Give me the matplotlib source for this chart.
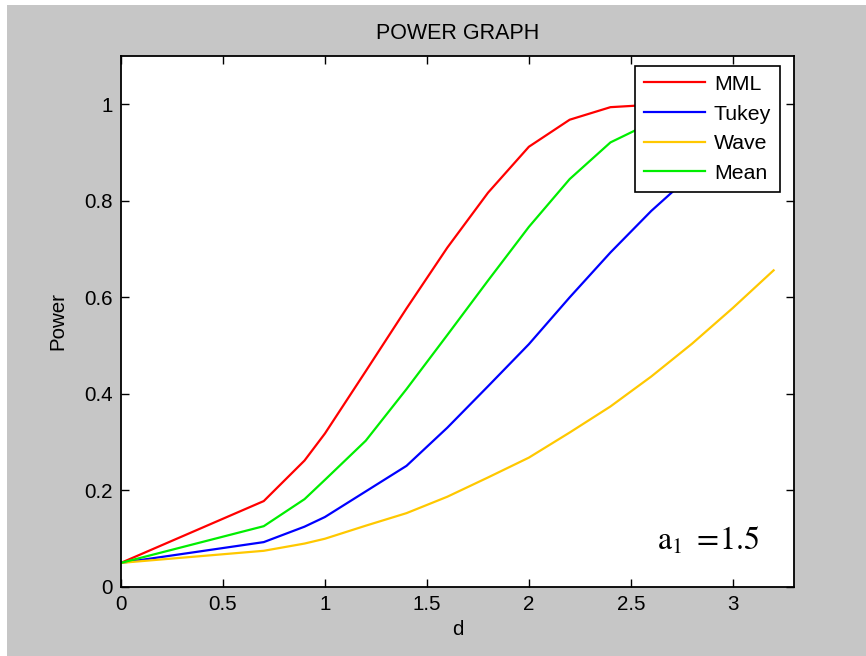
import matplotlib
matplotlib.use("Agg")
import matplotlib.pyplot as plt
from matplotlib.patches import Rectangle

d = [0, 0.7, 0.9, 1.0, 1.2, 1.4, 1.6, 1.8, 2.0, 2.2, 2.4, 2.6, 2.8, 3.0, 3.2]
mml = [0.05, 0.178, 0.262, 0.318, 0.447, 0.577, 0.703, 0.817, 0.912, 0.968, 0.994, 0.999, 1.0, 1.0, 1.0]
tukey = [0.05, 0.093, 0.125, 0.145, 0.198, 0.251, 0.330, 0.416, 0.503, 0.600, 0.693, 0.779, 0.855, 0.915, 0.955]
wave = [0.05, 0.075, 0.090, 0.100, 0.127, 0.153, 0.187, 0.227, 0.268, 0.320, 0.374, 0.436, 0.504, 0.578, 0.656]
mean = [0.05, 0.126, 0.182, 0.222, 0.303, 0.410, 0.522, 0.635, 0.746, 0.845, 0.921, 0.962, 0.985, 0.995, 0.999]

series_names = ["MML", "Tukey", "Wave", "Mean"]
series_colors = ["#ff0000", "#0000ff", "#ffc800", "#00ee00"]
xticks = [0, 0.5, 1, 1.5, 2, 2.5, 3]
xticklabels = ["0", "0.5", "1", "1.5", "2", "2.5", "3"]
yticks = [0, 0.2, 0.4, 0.6, 0.8, 1.0]
yticklabels = ["0", "0.2", "0.4", "0.6", "0.8", "1"]

plt.rcParams['font.family'] = ['Liberation Sans', 'DejaVu Sans']
plt.rcParams['mathtext.fontset'] = 'stix'
FS = 14.8

fig = plt.figure(figsize=(8.66, 6.56), dpi=100)
fig.patch.set_facecolor('white')
W, H = 866, 656
fig.patches.append(Rectangle((7 / W, -0.01), 1.02 - 7 / W, 1.01 - 5 / H, transform=fig.transFigure,
                             facecolor='#c6c6c6', edgecolor='none', zorder=-10))

ax = fig.add_axes([121 / W, 1 - 587 / H, (794 - 121) / W, (587 - 56) / H])
ax.set_facecolor('white')

for vals, name, col in zip([mml, tukey, wave, mean], series_names, series_colors):
    ax.plot(d, vals, color=col, lw=1.6, label=name)

ax.set_xlim(0, 3.3)
ax.set_ylim(0, 1.1)
ax.set_xticks(xticks)
ax.set_xticklabels(xticklabels)
ax.set_yticks(yticks)
ax.set_yticklabels(yticklabels)
ax.tick_params(direction='in', length=6, width=1, top=True, right=True,
               labelsize=FS, pad=6, colors='black')
for s in ax.spines.values():
    s.set_linewidth(1.3)
    s.set_color('black')

ax.set_title("POWER GRAPH", fontsize=15.5, pad=12)
ax.set_xlabel("d", fontsize=FS, labelpad=4)
ax.set_ylabel("Power", fontsize=FS, labelpad=12)

leg = ax.legend(loc='upper right', bbox_to_anchor=((780 - 121) / (794 - 121), (587 - 66) / (587 - 56)),
                borderaxespad=0, fontsize=15.3, handlelength=2.9, handletextpad=0.4,
                labelspacing=0.5, fancybox=False, framealpha=1, edgecolor='black',
                borderpad=0.42)
leg.get_frame().set_linewidth(1.2)

ax.text(2.63, 0.078, r'$\mathrm{a}_{1}\ =\!1.5$', fontsize=23, color='black')

fig.savefig("out.png", dpi=100)
